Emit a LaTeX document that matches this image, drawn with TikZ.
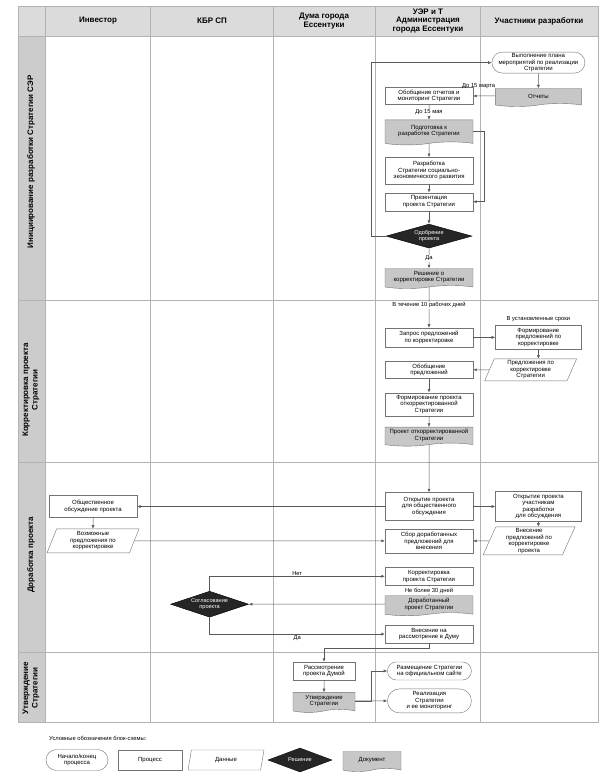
\documentclass[tikz,border=0pt]{standalone}
\usepackage{fontspec}
\setmainfont{Liberation Sans}
\usetikzlibrary{positioning,arrows.meta,shapes.geometric,shapes.symbols,shapes.misc}

\begin{document}
\begin{tikzpicture}[
    x=1pt, y=-1pt,
    node distance = 10pt and 22pt,
    procbox/.style = {
        rectangle,
        draw=black!55,
        fill=white,
        minimum width=88pt,
        minimum height=17pt,
        align=center,
        inner sep=1pt,
        font=\fontsize{6}{6.6}\selectfont
    },
    docbox/.style = {
        tape,
        tape bend top=none,
        tape bend height=3pt,
        draw=black!55,
        fill=black!22,
        minimum width=88pt,
        minimum height=20pt,
        align=center,
        inner sep=1pt,
        font=\fontsize{6}{6.6}\selectfont
    },
    termbox/.style = {
        rounded rectangle,
        draw=black!55,
        fill=white,
        minimum width=86pt,
        minimum height=18pt,
        align=center,
        inner sep=1pt,
        font=\fontsize{6}{6.6}\selectfont
    },
    databox/.style = {
        trapezium,
        trapezium left angle=65,
        trapezium right angle=115,
        trapezium stretches body,
        draw=black!55,
        fill=white,
        minimum width=92pt,
        minimum height=20pt,
        align=center,
        inner sep=1pt,
        font=\fontsize{6}{6.6}\selectfont
    },
    decbox/.style = {
        diamond,
        aspect=3.5,
        draw=black,
        fill=black!85,
        text=white,
        minimum width=86pt,
        minimum height=24pt,
        align=center,
        inner sep=0pt,
        font=\fontsize{5.6}{6.2}\selectfont
    },
    lbl/.style = {
        inner sep=1pt,
        font=\fontsize{5.8}{6.4}\selectfont
    },
    headtxt/.style = {
        align=center,
        font=\bfseries\fontsize{8}{8.8}\selectfont
    },
    lanetxt/.style = {
        rotate=90,
        align=center,
        font=\bfseries\fontsize{8}{9.5}\selectfont
    },
    arrow/.style = {
        -{Latex[length=3.5pt,width=3pt]},
        draw=black!65,
        line width=0.5pt
    }
]
\useasboundingbox (0,0) rectangle (602,781);

% lanes
\fill[black!14] (18,6) rectangle (598,36);
\fill[black!20] (18,36) rectangle (45,722);
\draw[black!30] (18,6) rectangle (598,722);
\foreach \xx in {45,150,273,375,480}
    \draw[black!30] (\xx,6) -- (\xx,722);
\foreach \yy in {36,300,462,652}
    \draw[black!30] (18,\yy) -- (598,\yy);
\coordinate (invcol) at (93,0);

\node (hinv) [headtxt] at (98,21) {Инвестор};
\node (hkbr) [headtxt] at (212,21) {КБР СП};
\node (hduma) [headtxt] at (324,21) {Дума города\\Ессентуки};
\node (huer) [headtxt] at (428,21) {УЭР и Т\\Администрация\\города Ессентуки};
\node (hpart) [headtxt] at (539,21) {Участники разработки};

\node (lane1) [lanetxt] at (31,162) {Инициирование разработки Стратегии СЭР};
\node (lane2) [lanetxt] at (31,390) {Корректировка проекта\\Стратегии};
\node (lane3) [lanetxt] at (31,555) {Доработка проекта};
\node (lane4) [lanetxt] at (31,688) {Утверждение\\Стратегии};

% initiation
\node (obob) [procbox] at (429,96) {Обобщение отчетов и\\мониторинг Стратегии};
\node (otch) [docbox, minimum width=86pt, minimum height=18pt, right=22pt of obob] {Отчеты};
\node (nach) [termbox, minimum height=21pt, above=15pt of otch] {Выполнение плана\\мероприятий по реализации\\Стратегии};
\node (podg) [docbox, minimum height=25pt, below=15pt of obob] {Подготовка к\\разработке Стратегии};
\node (razr) [procbox, minimum height=27pt, below=15pt of podg] {Разработка\\Стратегии социально-\\экономического развития};
\node (prez) [procbox, minimum height=18pt, below=8pt of razr] {Презентация\\проекта Стратегии};
\node (dec1) [decbox, below=13pt of prez] {Одобрение\\проекта};
\node (korr) [docbox, below=20pt of dec1] {Решение о\\корректировке Стратегии};

% correction
\node (zapr) [procbox, minimum height=19pt, below=42pt of korr] {Запрос предложений\\по корректировке};
\node (form) [procbox, minimum width=86pt, minimum height=24pt, right=22pt of zapr] {Формирование\\предложений по\\корректировке};
\node (obpr) [procbox, below=14pt of zapr] {Обобщение\\предложений};
\node (pred) [databox, minimum height=22pt, right=16pt of obpr] {Предложения по\\корректировке\\Стратегии};
\node (fpr) [procbox, minimum height=23pt, below=14pt of obpr] {Формирование проекта\\откорректированной\\Стратегии};
\node (pros) [docbox, minimum height=19pt, below=11pt of fpr] {Проект откорректированной\\Стратегии};

% revision
\node (otkr) [procbox, minimum height=28pt, below=49pt of pros] {Открытие проекта\\для общественного\\обсуждения};
\node (obsh) [procbox, minimum height=22pt] at (invcol |- otkr) {Общественное\\обсуждение проекта};
\node (ucht) [procbox, minimum width=86pt, minimum height=30pt, right=22pt of otkr] {Открытие проекта\\участникам\\разработки\\для обсуждения};
\node (sbor) [procbox, minimum height=24pt, below=8pt of otkr] {Сбор доработанных\\предложений для\\внесения};
\node (vozm) [databox, minimum height=24pt] at (invcol |- sbor) {Возможные\\предложения по\\корректировке};
\node (vnes) [databox, minimum height=28pt, right=16pt of sbor] {Внесение\\предложений по\\корректировке\\проекта};
\node (korrp) [procbox, minimum height=18pt, below=14pt of sbor] {Корректировка\\проекта Стратегии};
\node (dorab) [docbox, below=10pt of korrp] {Доработанный\\проект Стратегии};
\node (dec2) [decbox, minimum width=78pt, minimum height=26pt, left=136pt of dorab] {Согласование\\проекта};
\node (vnesd) [procbox, minimum height=18pt, below=12pt of dorab] {Внесение на\\рассмотрение в Думу};

% approval
\node (rass) [procbox, minimum width=62pt, minimum height=18pt] at (324,671) {Рассмотрение\\проекта Думой};
\node (utv) [docbox, minimum width=62pt, below=12pt of rass] {Утверждение\\Стратегии};
\node (razm) [termbox, right=32pt of rass] {Размещение Стратегии\\на официальном сайте};
\node (real) [termbox, minimum height=24pt, right=32pt of utv] {Реализация\\Стратегии\\и ее мониторинг};

% connectors
\draw [arrow] (nach) -- (otch);
\draw [arrow] (otch) -- node (srok1) [lbl, above=6pt, pos=0.75] {До 15 марта} (obob);
\draw [arrow] (obob) -- node (srok2) [lbl, fill=white] {До 15 мая} (podg);
\draw [arrow] (podg) -- (razr);
\draw [arrow] (podg.east) -- ++(11,0) |- (prez.east);
\draw [arrow] (razr) -- (prez);
\draw [arrow] (prez) -- (dec1);
\draw [arrow] (dec1.west) -- ++(-15,0) |- (nach.west);
\draw [arrow] (dec1) -- node (da1) [lbl, fill=white] {Да} (korr);
\draw [arrow] (korr) -- node (srok3) [lbl, fill=white, pos=0.45] {В течение 10 рабочих дней} (zapr);
\draw [arrow] (zapr) -- (form);
\node (srok4) [lbl, above=2pt of form] {В установленные сроки};
\draw [arrow] (form) -- (form.south |- pred.north);
\draw [arrow] (pred) -- (obpr);
\draw [arrow] (obpr) -- (fpr);
\draw [arrow] (fpr) -- (pros);
\draw [arrow] (pros) -- (otkr);
\draw [arrow] (otkr) -- (obsh);
\draw [arrow] (otkr) -- (ucht);
\draw [arrow] (obsh) -- (vozm);
\draw [arrow] (vozm) -- (sbor);
\draw [arrow] (ucht) -- (ucht.south |- vnes.north);
\draw [arrow] (vnes) -- (sbor);
\draw [arrow] (korrp) -- node (srok5) [lbl, fill=white] {Не более 30 дней} (dorab);
\draw [arrow] (dorab) -- (dec2);
\draw [arrow] (dec2.north) |- node (net2) [lbl, pos=0.75, above] {Нет} (korrp.west);
\draw [arrow] (dec2.south) |- node (da2) [lbl, pos=0.75, below] {Да} (vnesd.west);
\draw [arrow] (vnesd.south) -- ++(0,5) -| (rass.north);
\draw [arrow] (rass) -- (utv);
\draw [arrow] (utv.east) -- ++(16,0) |- (razm.west);
\draw [arrow] (utv) -- (real);

% legend
\node (legtitle) [lbl, anchor=west] at (48,738) {Условные обозначения блок-схемы:};
\node (legterm) [termbox, minimum width=64pt, minimum height=21pt] at (77,760) {Начало/конец\\процесса};
\node (legproc) [procbox, minimum width=64pt, minimum height=20pt] at (150,760) {Процесс};
\node (legdata) [databox, minimum width=76pt, minimum height=20pt] at (226,760) {Данные};
\node (legdec) [decbox, minimum width=64pt, minimum height=24pt] at (300,760) {Решение};
\node (legdoc) [docbox, minimum width=58pt, minimum height=20pt] at (372,760) {Документ};

\end{tikzpicture}
\end{document}
